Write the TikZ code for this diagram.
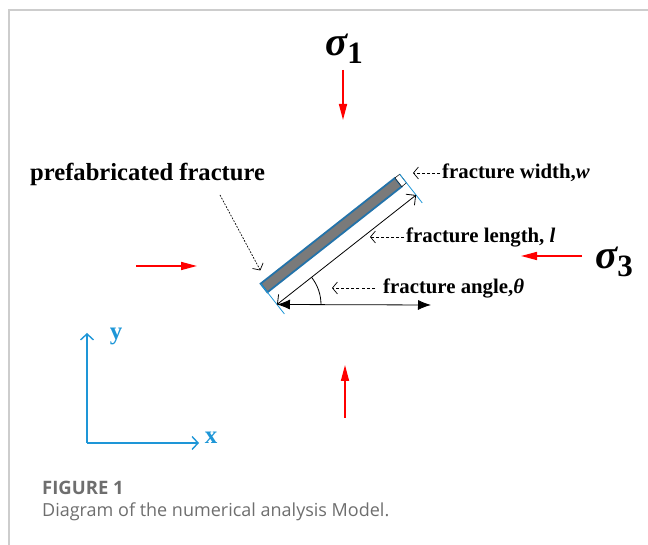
\documentclass[tikz,border=0pt]{standalone}
\usepackage{fontspec}
\setmainfont{Liberation Serif}
\newfontfamily\capfont{Open Sans}
\usepackage{xcolor}
\usetikzlibrary{arrows.meta, positioning, calc}

\definecolor{framegray}{RGB}{205,205,205}
\definecolor{barblue}{RGB}{35,115,170}
\definecolor{axisblue}{RGB}{30,150,215}
\definecolor{capgray}{RGB}{110,110,110}

\begin{document}
\begin{tikzpicture}[
    x=1pt, y=1pt,
    font=\bfseries,
    % Styles
    load/.style={
      draw=red,
      line width=1.6pt,
      -{Triangle[length=16pt,width=8pt]}
    },
    stresslabel/.style={
      font=\fontsize{41}{41}\selectfont\bfseries\itshape,
      inner sep=0pt
    },
    label/.style={
      font=\fontsize{20.8}{22}\selectfont\bfseries,
      anchor=west,
      inner sep=0pt
    },
    pointer/.style={
      densely dashed,
      line width=0.7pt,
      -{Straight Barb[length=5pt,width=12pt]}
    },
    dimarrow/.style={
      line width=0.8pt,
      {Straight Barb[length=7pt,width=14pt]}-{Straight Barb[length=7pt,width=14pt]}
    },
    axis/.style={
      draw=axisblue,
      line width=1.4pt,
      -{Straight Barb[length=6pt,width=13pt]}
    },
    axislabel/.style={
      font=\fontsize{25}{25}\selectfont\bfseries,
      text=axisblue,
      inner sep=0pt
    }
  ]

    \useasboundingbox (0,0) rectangle (648,545);

    % Frame
    \draw [framegray, line width=1.5pt] (648,535) -- (9,535) -- (9,0);

    % Loads
    \node (s1) [stresslabel] at (344,496) {σ\raisebox{-0.4ex}{\fontsize{31}{31}\selectfont\upshape 1}};
    \node (s3) [stresslabel] at (614,283) {σ\raisebox{-0.4ex}{\fontsize{31}{31}\selectfont\upshape 3}};
    \coordinate (top1) at (343,475);
    \coordinate (top2) at (343,425);
    \coordinate (left1) at (136,279);
    \coordinate (left2) at (197,279);
    \coordinate (right1) at (582,289);
    \coordinate (right2) at (521,289);
    \coordinate (bot1) at (345,127);
    \coordinate (bot2) at (345,180);
    \draw [load] (top1) -- (top2);
    \draw [load] (left1) -- (left2);
    \draw [load] (right1) -- (right2);
    \draw [load] (bot1) -- (bot2);

    % Fracture
    \begin{scope}[shift={(264,257)}, rotate=38.2]
      \draw [barblue, line width=1.8pt, fill=black!52] (0,-5.5) rectangle (171,5.5);
      \draw [black, line width=0.5pt, fill=white] (171,-5.5) rectangle (177,5.5);
      \draw [axisblue, line width=0.8pt] (0,5.5) -- (0,-33);
      \draw [axisblue, line width=0.8pt] (177,5.5) -- (177,-31);
      \coordinate (lo) at (0,-21);
      \coordinate (hi) at (177,-21);
      \coordinate (barhit) at (8,16);
    \end{scope}

    % Length and angle
    \coordinate (xend) at (431,240);
    \draw [dimarrow] (lo) -- (hi);
    \draw [line width=0.8pt, {Latex[length=13pt,width=10pt]}-{Latex[length=13pt,width=10pt]}] (lo) -- (xend);
    \draw [line width=0.8pt] ($(lo)+(44,0)$) arc [start angle=0, end angle=38.2, radius=44];

    % Labels
    \node (wlab) [label] at (442,372) {fracture width,\textit{w}};
    \node (llab) [label] at (406,308) {fracture length, \textit{l}};
    \node (alab) [label] at (383,257) {fracture angle,\textit{θ}};
    \node (plab) [label, font=\fontsize{24.6}{26}\selectfont\bfseries] at (30,371) {prefabricated fracture};

    \coordinate (wtip) at (413,372);
    \coordinate (ltip) at (370,308);
    \coordinate (atip) at (332,257);
    \coordinate (pstart) at (220,350);
    \draw [pointer] (wlab.west) ++(-2,0) -- (wtip);
    \draw [pointer] (llab.west) ++(-2,0) -- (ltip);
    \draw [pointer, dash pattern=on 3pt off 2.2pt] (alab.west) ++(-8,0) -- (atip);
    \draw [pointer, dash pattern=on 1.8pt off 1.4pt] (pstart) -- (barhit);

    % Axes
    \coordinate (origin) at (87,102);
    \coordinate (yend) at (87,212);
    \coordinate (xaxend) at (199,102);
    \draw [axis] (origin) -- (yend);
    \draw [axis] (origin) -- (xaxend);
    \node (ylab) [axislabel] at (116,209) {y};
    \node (xlab) [axislabel] at (211,107) {x};

    % Caption
    \node (fig) [anchor=base west, inner sep=0pt, text=capgray, font=\capfont\fontsize{18.5}{19}\selectfont\bfseries] at (42,50) {FIGURE 1};
    \node (cap) [anchor=base west, inner sep=0pt, text=capgray, font=\capfont\fontsize{18}{19}\selectfont] at (42,28) {Diagram of the numerical analysis Model.};

  \end{tikzpicture}
\end{document}
